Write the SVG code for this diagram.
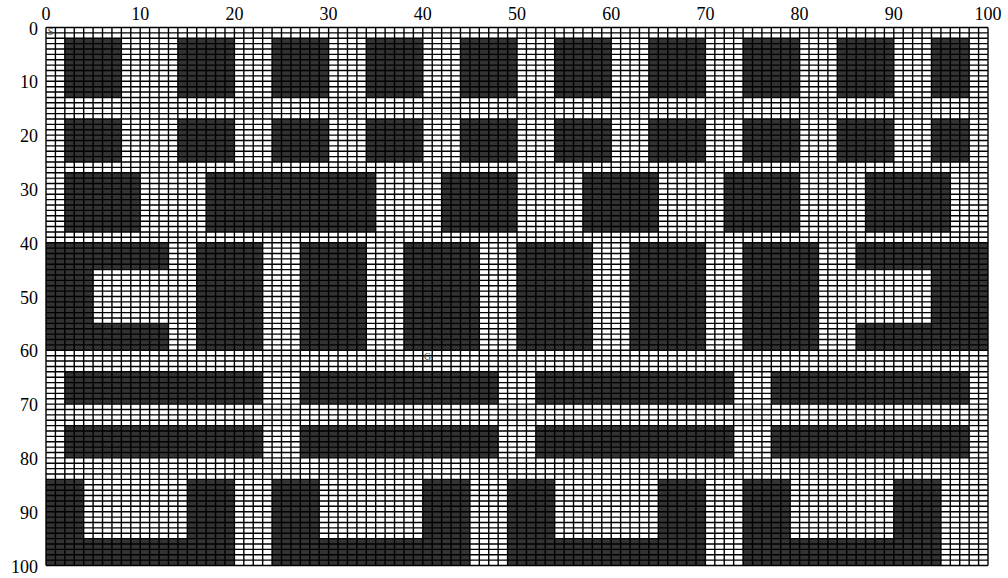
<svg xmlns="http://www.w3.org/2000/svg" width="1008" height="578" viewBox="0 0 1008 578">
<style>
.ax{font-family:"Liberation Serif","Times New Roman",serif;font-size:18px;fill:#000}
.axx{text-anchor:middle}
.axy{text-anchor:end;dominant-baseline:central}
.ob{fill:#333333}
.gr{fill:none;stroke:#000;stroke-width:1.4}
.mk{font-family:"Liberation Serif",serif;font-size:10px;fill:#444;text-anchor:middle;dominant-baseline:central}
</style>
<rect x="0" y="0" width="1008" height="578" fill="#fff"/>
<g id="axes">
<text class="ax axx" x="46" y="20">0</text>
<text class="ax axx" x="140.2" y="20">10</text>
<text class="ax axx" x="234.4" y="20">20</text>
<text class="ax axx" x="328.6" y="20">30</text>
<text class="ax axx" x="422.8" y="20">40</text>
<text class="ax axx" x="517" y="20">50</text>
<text class="ax axx" x="611.2" y="20">60</text>
<text class="ax axx" x="705.4" y="20">70</text>
<text class="ax axx" x="799.6" y="20">80</text>
<text class="ax axx" x="893.8" y="20">90</text>
<text class="ax axx" x="988" y="20">100</text>
<text class="ax axy" x="38" y="28.5">0</text>
<text class="ax axy" x="38" y="82.3">10</text>
<text class="ax axy" x="38" y="136.1">20</text>
<text class="ax axy" x="38" y="189.9">30</text>
<text class="ax axy" x="38" y="243.7">40</text>
<text class="ax axy" x="38" y="297.5">50</text>
<text class="ax axy" x="38" y="351.3">60</text>
<text class="ax axy" x="38" y="405.1">70</text>
<text class="ax axy" x="38" y="458.9">80</text>
<text class="ax axy" x="38" y="512.7">90</text>
<text class="ax axy" x="38" y="566.5">100</text>
</g>
<g id="map" transform="translate(46,27.5) scale(9.42,5.38)">
<rect x="0" y="0" width="100" height="100" fill="#fff"/>
<g id="obstacles" class="ob">
<!-- band A -->
<rect x="2" y="2" width="6" height="11"/><rect x="14" y="2" width="6" height="11"/><rect x="24" y="2" width="6" height="11"/><rect x="34" y="2" width="6" height="11"/><rect x="44" y="2" width="6" height="11"/><rect x="54" y="2" width="6" height="11"/><rect x="64" y="2" width="6" height="11"/><rect x="74" y="2" width="6" height="11"/><rect x="84" y="2" width="6" height="11"/><rect x="94" y="2" width="4" height="11"/>
<!-- band B -->
<rect x="2" y="17" width="6" height="8"/><rect x="14" y="17" width="6" height="8"/><rect x="24" y="17" width="6" height="8"/><rect x="34" y="17" width="6" height="8"/><rect x="44" y="17" width="6" height="8"/><rect x="54" y="17" width="6" height="8"/><rect x="64" y="17" width="6" height="8"/><rect x="74" y="17" width="6" height="8"/><rect x="84" y="17" width="6" height="8"/><rect x="94" y="17" width="4" height="8"/>
<!-- band C -->
<rect x="2" y="27" width="8" height="11"/><rect x="17" y="27" width="18" height="11"/><rect x="42" y="27" width="8" height="11"/><rect x="57" y="27" width="8" height="11"/><rect x="72" y="27" width="8" height="11"/><rect x="87" y="27" width="9" height="11"/>
<!-- band D -->
<rect x="0" y="40" width="13" height="5"/><rect x="0" y="45" width="5" height="10"/><rect x="0" y="55" width="13" height="5"/>
<rect x="16" y="40" width="7" height="20"/><rect x="27" y="40" width="7" height="20"/><rect x="38" y="40" width="8" height="20"/><rect x="50" y="40" width="8" height="20"/><rect x="62" y="40" width="8" height="20"/><rect x="74" y="40" width="8" height="20"/>
<rect x="86" y="40" width="14" height="5"/><rect x="94" y="45" width="6" height="10"/><rect x="86" y="55" width="14" height="5"/>
<!-- band E/F -->
<rect x="2" y="64" width="21" height="6"/><rect x="27" y="64" width="21" height="6"/><rect x="52" y="64" width="21" height="6"/><rect x="77" y="64" width="21" height="6"/>
<rect x="2" y="74" width="21" height="6"/><rect x="27" y="74" width="21" height="6"/><rect x="52" y="74" width="21" height="6"/><rect x="77" y="74" width="21" height="6"/>
<!-- band G -->
<rect x="0" y="84" width="4" height="16"/><rect x="15" y="84" width="5" height="16"/><rect x="0" y="95" width="20" height="5"/>
<rect x="24" y="84" width="5" height="16"/><rect x="40" y="84" width="5" height="16"/><rect x="24" y="95" width="21" height="5"/>
<rect x="49" y="84" width="5" height="16"/><rect x="65" y="84" width="5" height="16"/><rect x="49" y="95" width="21" height="5"/>
<rect x="74" y="84" width="5" height="16"/><rect x="90" y="84" width="5" height="16"/><rect x="74" y="95" width="21" height="5"/>
</g>
<path id="grid" class="gr" vector-effect="non-scaling-stroke" d="M0 0V100M1 0V100M2 0V100M3 0V100M4 0V100M5 0V100M6 0V100M7 0V100M8 0V100M9 0V100M10 0V100M11 0V100M12 0V100M13 0V100M14 0V100M15 0V100M16 0V100M17 0V100M18 0V100M19 0V100M20 0V100M21 0V100M22 0V100M23 0V100M24 0V100M25 0V100M26 0V100M27 0V100M28 0V100M29 0V100M30 0V100M31 0V100M32 0V100M33 0V100M34 0V100M35 0V100M36 0V100M37 0V100M38 0V100M39 0V100M40 0V100M41 0V100M42 0V100M43 0V100M44 0V100M45 0V100M46 0V100M47 0V100M48 0V100M49 0V100M50 0V100M51 0V100M52 0V100M53 0V100M54 0V100M55 0V100M56 0V100M57 0V100M58 0V100M59 0V100M60 0V100M61 0V100M62 0V100M63 0V100M64 0V100M65 0V100M66 0V100M67 0V100M68 0V100M69 0V100M70 0V100M71 0V100M72 0V100M73 0V100M74 0V100M75 0V100M76 0V100M77 0V100M78 0V100M79 0V100M80 0V100M81 0V100M82 0V100M83 0V100M84 0V100M85 0V100M86 0V100M87 0V100M88 0V100M89 0V100M90 0V100M91 0V100M92 0V100M93 0V100M94 0V100M95 0V100M96 0V100M97 0V100M98 0V100M99 0V100M100 0V100M0 0H100M0 1H100M0 2H100M0 3H100M0 4H100M0 5H100M0 6H100M0 7H100M0 8H100M0 9H100M0 10H100M0 11H100M0 12H100M0 13H100M0 14H100M0 15H100M0 16H100M0 17H100M0 18H100M0 19H100M0 20H100M0 21H100M0 22H100M0 23H100M0 24H100M0 25H100M0 26H100M0 27H100M0 28H100M0 29H100M0 30H100M0 31H100M0 32H100M0 33H100M0 34H100M0 35H100M0 36H100M0 37H100M0 38H100M0 39H100M0 40H100M0 41H100M0 42H100M0 43H100M0 44H100M0 45H100M0 46H100M0 47H100M0 48H100M0 49H100M0 50H100M0 51H100M0 52H100M0 53H100M0 54H100M0 55H100M0 56H100M0 57H100M0 58H100M0 59H100M0 60H100M0 61H100M0 62H100M0 63H100M0 64H100M0 65H100M0 66H100M0 67H100M0 68H100M0 69H100M0 70H100M0 71H100M0 72H100M0 73H100M0 74H100M0 75H100M0 76H100M0 77H100M0 78H100M0 79H100M0 80H100M0 81H100M0 82H100M0 83H100M0 84H100M0 85H100M0 86H100M0 87H100M0 88H100M0 89H100M0 90H100M0 91H100M0 92H100M0 93H100M0 94H100M0 95H100M0 96H100M0 97H100M0 98H100M0 99H100M0 100H100"/>
</g>
<g id="start"><text class="mk" x="50.5" y="31.5">S</text></g>
<g id="goal"><text class="mk" x="427.7" y="356">G</text></g>
</svg>
